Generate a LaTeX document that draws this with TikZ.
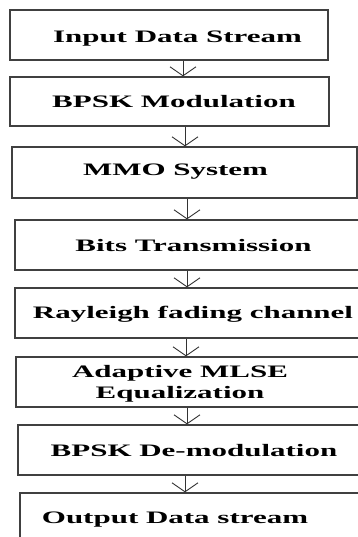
\documentclass[tikz,border=0pt]{standalone}
\usepackage{fontspec}
\setmainfont{Liberation Serif}
\usepackage{tikz}
\usetikzlibrary{arrows.meta, calc}
\tikzstyle{cadre} = [
    rectangle,
    draw = black!75,
    line width = 1.3pt,
    inner sep = 0pt,
]
\tikzstyle{libelle} = [
    anchor = base,
    inner sep = 0pt,
    font = \fontsize{17.5}{21}\selectfont\bfseries,
]
\tikzstyle{fleche} = [
    -{Straight Barb[length=9pt, width=26pt]},
    draw = black!80,
    line width = 0.9pt,
]
\newcommand{\etire}[1]{\scalebox{1.77}[1]{#1}}

\begin{document}
\begin{tikzpicture} [x = 1pt, y = -1pt]
    \useasboundingbox (0,0) rectangle (358,537);
    \clip (0,0) rectangle (358,537);

    \node (b1) [cadre, minimum width = 318pt, minimum height = 50pt] at (169,35) {};
    \node (b2) [cadre, minimum width = 319pt, minimum height = 49pt] at (169.5,101.5) {};
    \node (b3) [cadre, minimum width = 345pt, minimum height = 51pt] at (184.5,172.5) {};
    \node (b4) [cadre, minimum width = 360pt, minimum height = 50pt] at (195,245) {};
    \node (b5) [cadre, minimum width = 360pt, minimum height = 50pt] at (195,313) {};
    \node (b6) [cadre, minimum width = 359pt, minimum height = 50pt] at (195.5,382) {};
    \node (b7) [cadre, minimum width = 357pt, minimum height = 50pt] at (196.5,450) {};
    \node (b8) [cadre, minimum width = 355pt, minimum height = 52pt] at (197.5,519) {};

    \node (t1) [libelle] at (177.5,43) {\etire{Input Data Stream}};
    \node (t2) [libelle] at (174,108) {\etire{BPSK Modulation}};
    \node (t3) [libelle] at (175.5,176) {\etire{MMO System}};
    \node (t4) [libelle] at (193.5,251) {\etire{Bits Transmission}};
    \node (t5) [libelle] at (193,318) {\etire{Rayleigh fading channel}};
    \node (t6) [libelle] at (180,377) {\etire{\begin{tabular}[t]{@{}c@{}}Adaptive MLSE\\Equalization\end{tabular}}};
    \node (t7) [libelle] at (194,456) {\etire{BPSK De-modulation}};
    \node (t8) [libelle] at (175,523) {\etire{Output Data stream}};

    \foreach \i/\j/\x in {1/2/183, 2/3/185, 3/4/187, 4/5/187, 5/6/186, 6/7/187, 7/8/185} {
        \coordinate (a\i) at (\x,0);
        \draw[fleche] (b\i.south -| a\i) -- (b\j.north -| a\i);
    }
\end{tikzpicture}
\end{document}
